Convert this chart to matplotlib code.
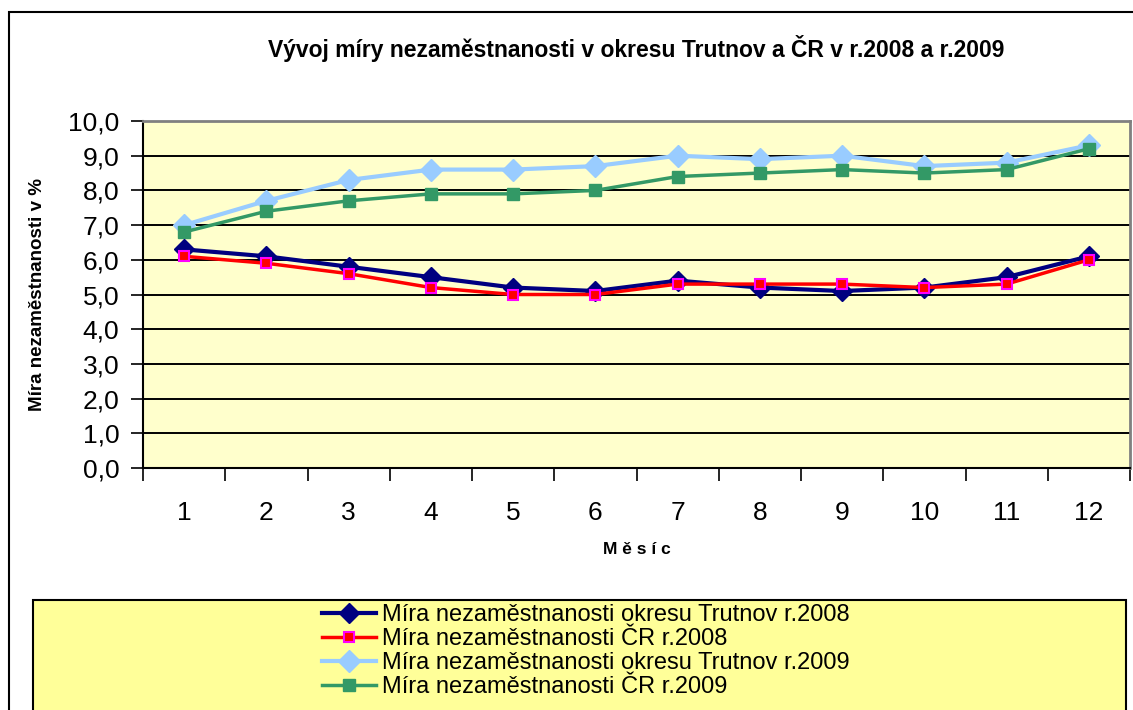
import numpy as np
import matplotlib.pyplot as plt
from matplotlib.patches import Rectangle

mesice = [1, 2, 3, 4, 5, 6, 7, 8, 9, 10, 11, 12]
trutnov_2008 = [6.3, 6.1, 5.8, 5.5, 5.2, 5.1, 5.4, 5.2, 5.1, 5.2, 5.5, 6.1]
cr_2008 = [6.1, 5.9, 5.6, 5.2, 5.0, 5.0, 5.3, 5.3, 5.3, 5.2, 5.3, 6.0]
trutnov_2009 = [7.0, 7.7, 8.3, 8.6, 8.6, 8.7, 9.0, 8.9, 9.0, 8.7, 8.8, 9.3]
cr_2009 = [6.8, 7.4, 7.7, 7.9, 7.9, 8.0, 8.4, 8.5, 8.6, 8.5, 8.6, 9.2]

nazvy = ["Míra nezaměstnanosti okresu Trutnov r.2008",
         "Míra nezaměstnanosti ČR r.2008",
         "Míra nezaměstnanosti okresu Trutnov r.2009",
         "Míra nezaměstnanosti ČR r.2009"]

plt.rcParams['font.family'] = ['Liberation Sans', 'DejaVu Sans']

fig = plt.figure(figsize=(11.33, 7.10), dpi=100)
fig.patch.set_facecolor('white')

# outer chart border
fig.patches.append(Rectangle((9 / 1133, -0.01), 1.1, 1 - 12 / 710 + 0.01,
                             transform=fig.transFigure, fill=False,
                             edgecolor='black', linewidth=1.5, zorder=0))

ax = fig.add_axes([143 / 1133, 1 - 468 / 710, (1130 - 143) / 1133, (468 - 121) / 710])
ax.set_facecolor('#FFFFCC')

ax.plot(mesice, trutnov_2009, color='#99CCFF', lw=3, marker='D', ms=11,
        mfc='#99CCFF', mec='#99CCFF', label=nazvy[2], zorder=3)
ax.plot(mesice, cr_2009, color='#339966', lw=2.5, marker='s', ms=8,
        mfc='#339966', mec='#339966', label=nazvy[3], zorder=4)
ax.plot(mesice, trutnov_2008, color='#000080', lw=3, marker='D', ms=10.5,
        mfc='#000080', mec='#000080', label=nazvy[0], zorder=5)
ax.plot(mesice, cr_2008, color='#FF0000', lw=2.5, marker='s', ms=7,
        mfc='#FF0000', mec='#FF00FF', mew=1.5, label=nazvy[1], zorder=6)

ax.set_xlim(0.5, 12.5)
ax.set_ylim(0, 10)
ax.set_yticks(np.arange(0, 10.1, 1))
ax.set_yticklabels([f"{v:.1f}".replace('.', ',') for v in np.arange(0, 10.1, 1)], fontsize=19)
ax.set_xticks(np.arange(0.5, 12.6, 1))
ax.set_xticklabels([])
ax.set_xticks(mesice, minor=True)
ax.set_xticklabels([str(m) for m in mesice], minor=True, fontsize=19)
ax.tick_params(axis='x', which='minor', length=0, pad=24)
ax.tick_params(axis='x', which='major', direction='out', length=9, width=1.2)
ax.tick_params(axis='y', direction='out', length=9, width=1.2, pad=8)
ax.yaxis.grid(True, color='black', lw=1.4)
ax.set_axisbelow(True)

for s in ['left', 'bottom']:
    ax.spines[s].set_color('black')
    ax.spines[s].set_linewidth(1.5)
for s in ['top', 'right']:
    ax.spines[s].set_color('#808080')
    ax.spines[s].set_linewidth(2)

ax.set_ylabel("Míra nezaměstnanosti v %", fontsize=13.5, fontweight='bold', labelpad=16)
ax.set_xlabel("M ě s í c", fontsize=12.5, fontweight='bold', labelpad=12)
ax.set_title("Vývoj míry nezaměstnanosti v okresu Trutnov a ČR v r.2008 a r.2009",
             fontsize=16.5, fontweight='bold', pad=46)

# legend box
fig.patches.append(Rectangle((33 / 1133, -0.01), (1126 - 33) / 1133, 1 - 600 / 710 + 0.01,
                             transform=fig.transFigure, facecolor='#FFFF99',
                             edgecolor='black', linewidth=1.5, zorder=1))
h, l = ax.get_legend_handles_labels()
order = [l.index(n) for n in nazvy]
leg = fig.legend([h[i] for i in order], [l[i] for i in order],
                 loc='center', bbox_to_anchor=(586 / 1133, 1 - 651 / 710),
                 frameon=False, fontsize=17, labelspacing=0.08,
                 handlelength=2.3, handletextpad=0.25, borderpad=0)

fig.savefig('out.png', dpi=100)
